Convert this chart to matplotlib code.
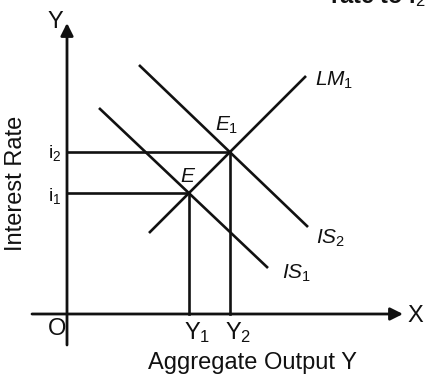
import matplotlib
matplotlib.use("Agg")
import matplotlib.pyplot as plt

plt.rcParams["font.family"] = ["Liberation Sans", "DejaVu Sans"]
plt.rcParams["mathtext.fontset"] = "custom"
plt.rcParams["mathtext.rm"] = "Liberation Sans"
plt.rcParams["mathtext.it"] = "Liberation Sans:italic"

# Equilibrium values (output, interest rate)
Y1, i1 = 12.2, 12.1
Y2, i2 = 16.3, 16.2

# Curve end points
lm_x = [8.2, 23.9]
lm_y = [8.1, 23.8]
is1_x = [3.2, 20.1]
is1_y = [20.6, 4.6]
is2_x = [7.2, 24.1]
is2_y = [24.9, 8.7]

# Axis extents
x_axis = [-3.5, 33.6]
y_axis = [-3.1, 29.1]

ink = "#111111"
fig = plt.figure(figsize=(4.26, 3.76), dpi=100)
ax = fig.add_axes([0, 0, 1, 1])
ax.set_xlim(-6.7, 35.9)
ax.set_ylim(-6.2, 31.4)
ax.axis("off")

arrow = dict(arrowstyle="-|>,head_length=0.5,head_width=0.25", lw=2.0,
             color=ink, mutation_scale=15, shrinkA=0, shrinkB=0)
ax.annotate("", xy=(x_axis[1], 0), xytext=(x_axis[0], 0), arrowprops=arrow)
ax.annotate("", xy=(0, y_axis[1]), xytext=(0, y_axis[0]), arrowprops=arrow)

lw = 1.9
ax.plot(lm_x, lm_y, color=ink, lw=lw, solid_capstyle="butt")
ax.plot(is1_x, is1_y, color=ink, lw=lw, solid_capstyle="butt")
ax.plot(is2_x, is2_y, color=ink, lw=lw, solid_capstyle="butt")

# Guide lines from the equilibria to the axes
ax.plot([0, Y1], [i1, i1], color=ink, lw=lw)
ax.plot([0, Y2], [i2, i2], color=ink, lw=lw)
ax.plot([Y1, Y1], [0, i1], color=ink, lw=lw)
ax.plot([Y2, Y2], [0, i2], color=ink, lw=lw)

fs = 17
ax.text(-1.2, 29.2, "Y", fontsize=fs, ha="center", va="center", color=ink)
ax.text(34.8, -0.2, "X", fontsize=fs, ha="center", va="center", color=ink)
ax.text(-1.0, -1.5, "O", fontsize=fs, ha="center", va="center", color=ink)
ax.text(-1.2, i2 - 0.1, "i$_2$", fontsize=14, ha="center", va="center", color=ink)
ax.text(-1.2, i1 - 0.3, "i$_1$", fontsize=14, ha="center", va="center", color=ink)
ax.text(Y1 + 0.8, -1.9, "Y$_1$", fontsize=fs, ha="center", va="center", color=ink)
ax.text(Y2 + 0.8, -1.9, "Y$_2$", fontsize=fs, ha="center", va="center", color=ink)
ax.text(18.6, -4.9, "Aggregate Output Y", fontsize=fs, ha="center", va="center", color=ink)
ax.text(-5.1, 13.1, "Interest Rate", fontsize=fs, ha="center", va="center",
        rotation=90, color=ink)

ax.text(26.7, 23.4, r"$LM_\mathrm{1}$", fontsize=15, ha="center", va="center", color=ink)
ax.text(26.4, 7.6, r"$IS_\mathrm{2}$", fontsize=15, ha="center", va="center", color=ink)
ax.text(23.0, 4.1, r"$IS_\mathrm{1}$", fontsize=15, ha="center", va="center", color=ink)
ax.text(16.0, 18.9, r"$E_\mathrm{1}$", fontsize=15, ha="center", va="center", color=ink)
ax.text(12.1, 13.8, r"$E$", fontsize=15, ha="center", va="center", color=ink)

# Tail of the running text above the figure
ax.text(35.9, 31.1, "rate to i$_2$", fontsize=fs, ha="right", va="baseline",
        color=ink, fontweight="bold")

fig.savefig("out.png", dpi=100, facecolor="white")
